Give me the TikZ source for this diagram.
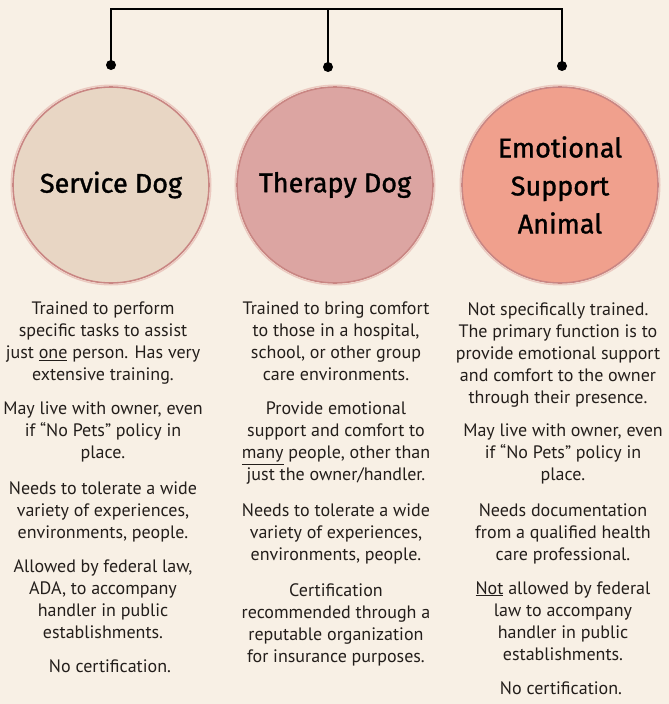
\documentclass[tikz,border=0pt]{standalone}
\usepackage{fontspec}
\setmainfont{PT Sans}
\newfontfamily\headfont[FakeBold=1.2]{Fira Sans}
\definecolor{bg}{HTML}{F8F0E5}
\definecolor{fillA}{HTML}{E8D6C4}
\definecolor{fillB}{HTML}{DCA5A2}
\definecolor{fillC}{HTML}{F0A08D}
\definecolor{ring}{HTML}{C98683}
\definecolor{halo}{HTML}{EBC9C0}
\definecolor{txt}{HTML}{231E1B}
\tikzset{
  bubble/.style={circle, minimum size=196pt, inner sep=0pt, draw=ring, line width=1.6pt,
    font=\headfont\fontsize{27}{38}\selectfont, text=black, align=center},
  dotnode/.style={circle, fill=black, minimum size=10pt, inner sep=0pt},
  bar/.style={line width=2.6pt, black},
  para/.style={anchor=north, inner sep=0pt, align=center, text=txt,
    font=\fontsize{18}{22}\selectfont},
}
\begin{document}
\begin{tikzpicture}[x=1pt,y=-1pt]
\fill[bg] (0,0) rectangle (669,704);
\useasboundingbox (0,0) rectangle (669,704);
% bubbles
\node[bubble, fill=fillA] (sd) at (111,185) {Service Dog};
\node[bubble, fill=fillB] (td) at (335,185) {Therapy Dog};
\node[bubble, fill=fillC] (esa) at (560,185) {Emotional\\Support\\Animal};
\foreach \n in {sd,td,esa}{\draw[halo, line width=1.4pt] (\n.center) circle[radius=99.8pt];}
% connector
\node[dotnode] (dA) at (111,65) {};
\node[dotnode] (dB) at (328,67) {};
\node[dotnode] (dC) at (562,66) {};
\coordinate (tA) at (111,9);
\coordinate (tB) at (328,9);
\coordinate (tC) at (562,9);
\draw[bar, line cap=rect] (tA) -- (tC);
\draw[bar] (tA) -- (dA.center);
\draw[bar] (tB) -- (dB.center);
\draw[bar] (tC) -- (dC.center);
% left column
\node[para] (l1) at (103,302) {Trained to perform\\specific tasks to assist\\just \underline{one} person. Has very\\extensive training.};
\node[para] (l2) at (103,402) {May live with owner, even\\if “No Pets” policy in\\place.};
\node[para] (l3) at (103,481) {Needs to tolerate a wide\\variety of experiences,\\environments, people.};
\node[para] (l4) at (103,559) {Allowed by federal law,\\ADA, to accompany\\handler in public\\establishments.};
\node[para] (l5) at (110,659) {No certification.};
% middle column
\node[para] (m1) at (336,302) {Trained to bring comfort\\to those in a hospital,\\school, or other group\\care environments.};
\node[para] (m2) at (336,402) {Provide emotional\\support and comfort to\\\underline{many} people, other than\\just the owner/handler.};
\node[para] (m3) at (336,503) {Needs to tolerate a wide\\variety of experiences,\\environments, people.};
\node[para] (m4) at (336,583) {Certification\\recommended through a\\reputable organization\\for insurance purposes.};
% right column
\node[para] (r1) at (558,302) {Not specifically trained.\\The primary function is to\\provide emotional support\\and comfort to the owner\\through their presence.};
\node[para] (r2) at (563,424) {May live with owner, even\\if “No Pets” policy in\\place.};
\node[para] (r3) at (563,503) {Needs documentation\\from a qualified health\\care professional.};
\node[para] (r4) at (563,581) {\underline{Not} allowed by federal\\law to accompany\\handler in public\\establishments.};
\node[para] (r5) at (561,681) {No certification.};
\end{tikzpicture}
\end{document}
